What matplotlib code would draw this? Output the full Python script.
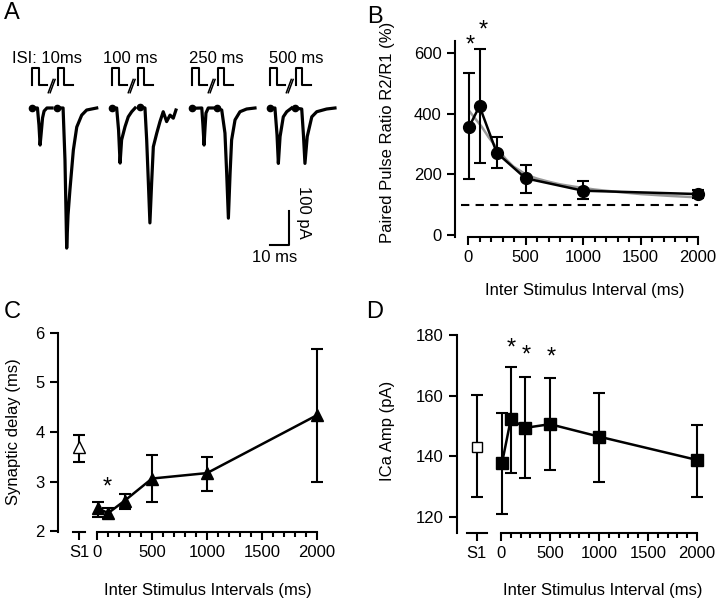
import numpy as np
import matplotlib
matplotlib.use('Agg')
import matplotlib.pyplot as plt
from matplotlib.ticker import FixedLocator

plt.rcParams['font.family'] = ['Liberation Sans', 'DejaVu Sans']

# ---------------- data ----------------
# A: example traces (time in ms, current in pA), two responses per ISI
trace_t = [
    [16.7, 19.7, 20.5, 21.1, 21.6, 22.4, 23.2, 24.7, 27.4],
    [29.8, 33.2, 34.2, 35.1, 35.8, 36.8, 38.6, 40.4, 43.0, 45.6, 50.9],
    [58.8, 61.4, 62.4, 63.2, 64.0, 65.8, 67.5, 69.3, 71.1],
    [73.7, 76.3, 77.2, 78.1, 78.9, 79.8, 80.7, 82.5, 84.2, 85.9, 87.7, 89.5, 91.2, 92.6],
    [100.9, 106.2, 106.8, 107.4, 107.9, 108.4, 109.6, 112.3],
    [114.0, 116.7, 118.4, 119.3, 120.2, 121.1, 121.9, 123.7, 126.3, 129.8, 134.2],
    [142.1, 144.7, 145.8, 146.5, 147.4, 149.1, 150.9, 153.5],
    [155.3, 158.8, 159.7, 160.5, 161.7, 164.1, 166.7, 171.9, 176.3],
]
trace_i = [
    [0, 0, -50, -109, -79, -29, -9, 0, 0],
    [0, 0, -153, -412, -315, -241, -124, -56, -21, -6, 0],
    [-1, 0, -65, -162, -94, -55, -26, -11, 0],
    [4, 0, -94, -221, -338, -221, -114, -74, -40, -11, -40, -21, -30, -6],
    [-1, 0, -50, -109, -59, -15, 0, 0],
    [0, -6, -74, -191, -324, -191, -94, -35, -11, -3, 0],
    [-1, 0, -79, -163, -84, -26, -11, 0],
    [0, -3, -79, -163, -84, -26, -11, -3, 0],
]
isi_labels = ['ISI: 10ms', '100 ms', '250 ms', '500 ms']
isi_label_x = [24.7, 68.4, 113.7, 155.8]
icon_x0 = [16.8, 58.9, 101.0, 142.1]

# B: paired pulse ratio
isi_b = [10, 100, 250, 500, 1000, 2000]
ppr = [357, 425, 271, 187, 146, 135]
ppr_lo = [184, 236, 220, 140, 118, 123]
ppr_hi = [535, 613, 322, 231, 179, 147]
fit_x = [17, 60, 119, 180, 264, 330, 394, 510, 600, 698, 800, 930, 1100, 1300, 1500, 1750, 2000]
fit_y = [406, 385, 357, 322, 280, 250, 226, 198, 186, 176, 167, 159, 150, 142, 135, 129, 124]
b_stars_x = [17, 130]
b_stars_y = [624, 674]

# C: synaptic delay
s1_delay, s1_delay_lo, s1_delay_hi = 3.70, 3.39, 3.94
isi_c = [10, 100, 250, 500, 1000, 2000]
delay = [2.46, 2.36, 2.61, 3.06, 3.17, 4.34]
delay_lo = [2.29, 2.26, 2.44, 2.59, 2.81, 3.00]
delay_hi = [2.59, 2.46, 2.74, 3.54, 3.50, 5.68]
c_stars_x = [90]
c_stars_y = [2.88]

# D: ICa amplitude
s1_ica, s1_ica_lo, s1_ica_hi = 143.2, 126.7, 160.2
isi_d = [10, 100, 250, 500, 1000, 2000]
ica = [137.7, 152.2, 149.4, 150.6, 146.5, 138.8]
ica_lo = [120.9, 134.4, 132.8, 135.5, 131.6, 126.7]
ica_hi = [154.2, 169.4, 166.3, 165.7, 160.8, 150.3]
d_stars_x = [109, 262, 517]
d_stars_y = [175.6, 173.2, 172.7]

# ---------------- figure ----------------
fig = plt.figure(figsize=(7.2, 6), dpi=100)
LW = 1.5
FS = 12


def style_axes(ax, xlo_spine, ylo_spine, yhi_spine):
    for s in ['top', 'right']:
        ax.spines[s].set_visible(False)
    ax.spines['left'].set_linewidth(LW)
    ax.spines['bottom'].set_linewidth(LW)
    ax.spines['left'].set_bounds(ylo_spine, yhi_spine)
    ax.spines['bottom'].set_bounds(xlo_spine, 2000)
    ax.tick_params(which='major', direction='out', length=6, width=LW, labelsize=FS)
    ax.tick_params(which='minor', direction='out', length=3.5, width=LW)
    ax.xaxis.set_minor_locator(FixedLocator([v for v in range(0, 2001, 100) if v % 500]))
    ax.set_facecolor('none')


def err(y, lo, hi):
    y = np.array(y)
    return [y - np.array(lo), np.array(hi) - y]


# ---- A ----
ax_a = fig.add_axes([0, 0.5, 0.5, 0.5])
ax_a.set_xlim(0, 189.47)
ax_a.set_ylim(-564.7, 317.6)
ax_a.axis('off')
for t, i in zip(trace_t, trace_i):
    ax_a.plot(t, i, color='k', lw=2.3, solid_joinstyle='round')
    ax_a.plot(t[0], i[0], 'o', color='k', ms=4.5)
for x0, lab, lx in zip(icon_x0, isi_labels, isi_label_x):
    base, top = 68, 117
    ax_a.plot([x0, x0, x0 + 3.5, x0 + 3.5, x0 + 8], [base, top, top, base, base], color='k', lw=1.5)
    ax_a.plot([x0 + 13.5, x0 + 13.5, x0 + 17, x0 + 17, x0 + 21.5], [base, top, top, base, base], color='k', lw=1.5)
    for d in (0, 1.0):
        ax_a.plot([x0 + 8.6 + d, x0 + 11.2 + d], [45, 84], color='k', lw=1.1)
    ax_a.text(lx, 147, lab, ha='center', va='center', fontsize=FS)
# scale bar
ax_a.plot([142.1, 152.1, 152.1], [-403, -403, -303], color='k', lw=LW)
ax_a.text(159.5, -306, '100 pA', rotation=270, ha='center', va='center', fontsize=FS)
ax_a.text(144.7, -440, '10 ms', ha='center', va='center', fontsize=FS)

# ---- B ----
ax_b = fig.add_axes([455 / 720, 1 - 237 / 600, 250 / 720, (237 - 22.7) / 600])
ax_b.set_xlim(-113, 2060)
ax_b.set_ylim(-6.6, 700)
style_axes(ax_b, 0, -6.6, 640)
ax_b.axhline(100, xmin=(-60 + 113) / 2173, xmax=(2000 + 113) / 2173, color='k', lw=LW, ls=(0, (4, 3)))
ax_b.plot(fit_x, fit_y, color='#999999', lw=1.8, zorder=2)
ax_b.errorbar(isi_b, ppr, yerr=err(ppr, ppr_lo, ppr_hi), fmt='-o', color='k', ms=8.5, lw=1.8,
              elinewidth=LW, capsize=4, capthick=LW, zorder=3)
for x, y in zip(b_stars_x, b_stars_y):
    ax_b.text(x, y, '*', ha='center', va='center', fontsize=17)
ax_b.set_xticks([0, 500, 1000, 1500, 2000])
ax_b.set_yticks([0, 200, 400, 600])
ax_b.set_xlabel('Inter Stimulus Interval (ms)', fontsize=FS)
ax_b.set_ylabel('Paired Pulse Ratio R2/R1 (%)', fontsize=FS)
ax_b.xaxis.set_label_coords(0.518, -0.215)
ax_b.yaxis.set_label_coords(-0.24, 0.49)

# ---- C ----
s1_c = -164
ax_c = fig.add_axes([58 / 720, 1 - 532 / 600, 272 / 720, (532 - 330.5) / 600])
ax_c.set_xlim(-355, 2118)
ax_c.set_ylim(1.98, 6.05)
style_axes(ax_c, 0, 1.98, 6)
ax_c.plot([-218, -109], [0, 0], color='k', lw=LW, transform=ax_c.get_xaxis_transform(), clip_on=False)
ax_c.errorbar([s1_c], [s1_delay], yerr=err([s1_delay], [s1_delay_lo], [s1_delay_hi]), fmt='^',
              color='k', mfc='white', ms=8, elinewidth=LW, capsize=4, capthick=LW)
ax_c.errorbar(isi_c, delay, yerr=err(delay, delay_lo, delay_hi), fmt='-^', color='k', ms=8.5, lw=1.8,
              elinewidth=LW, capsize=4, capthick=LW)
for x, y in zip(c_stars_x, c_stars_y):
    ax_c.text(x, y, '*', ha='center', va='center', fontsize=17)
ax_c.set_xticks([s1_c, 0, 500, 1000, 1500, 2000])
ax_c.set_xticklabels(['S1', '0', '500', '1000', '1500', '2000'])
ax_c.set_yticks([2, 3, 4, 5, 6])
ax_c.set_xlabel('Inter Stimulus Intervals (ms)', fontsize=FS)
ax_c.set_ylabel('Synaptic delay (ms)', fontsize=FS)
ax_c.xaxis.set_label_coords(0.55, -0.253)
ax_c.yaxis.set_label_coords(-0.135, 0.5)

# ---- D ----
s1_d = -248
ax_d = fig.add_axes([457 / 720, 1 - 533 / 600, 248 / 720, (533 - 329) / 600])
ax_d.set_xlim(-449, 2082)
ax_d.set_ylim(114.7, 182)
style_axes(ax_d, 0, 114.7, 180)
ax_d.plot([-350, -146], [0, 0], color='k', lw=LW, transform=ax_d.get_xaxis_transform(), clip_on=False)
ax_d.errorbar([s1_d], [s1_ica], yerr=err([s1_ica], [s1_ica_lo], [s1_ica_hi]), fmt='s',
              color='k', mfc='white', ms=7, elinewidth=LW, capsize=4, capthick=LW)
ax_d.errorbar(isi_d, ica, yerr=err(ica, ica_lo, ica_hi), fmt='-s', color='k', ms=8, lw=1.8,
              elinewidth=LW, capsize=4, capthick=LW)
for x, y in zip(d_stars_x, d_stars_y):
    ax_d.text(x, y, '*', ha='center', va='center', fontsize=17)
ax_d.set_xticks([s1_d, 0, 500, 1000, 1500, 2000])
ax_d.set_xticklabels(['S1', '0', '500', '1000', '1500', '2000'])
ax_d.set_yticks([120, 140, 160, 180])
ax_d.set_xlabel('Inter Stimulus Interval (ms)', fontsize=FS)
ax_d.set_ylabel('ICa Amp (pA)', fontsize=FS)
ax_d.xaxis.set_label_coords(0.587, -0.245)
ax_d.yaxis.set_label_coords(-0.25, 0.5)

# panel letters
for lab, px, py in [('A', 12, 13), ('B', 375, 17), ('C', 12, 312), ('D', 375, 312)]:
    fig.text(px / 720, 1 - py / 600, lab, fontsize=17, ha='center', va='center')

fig.savefig('out.png', dpi=100)
